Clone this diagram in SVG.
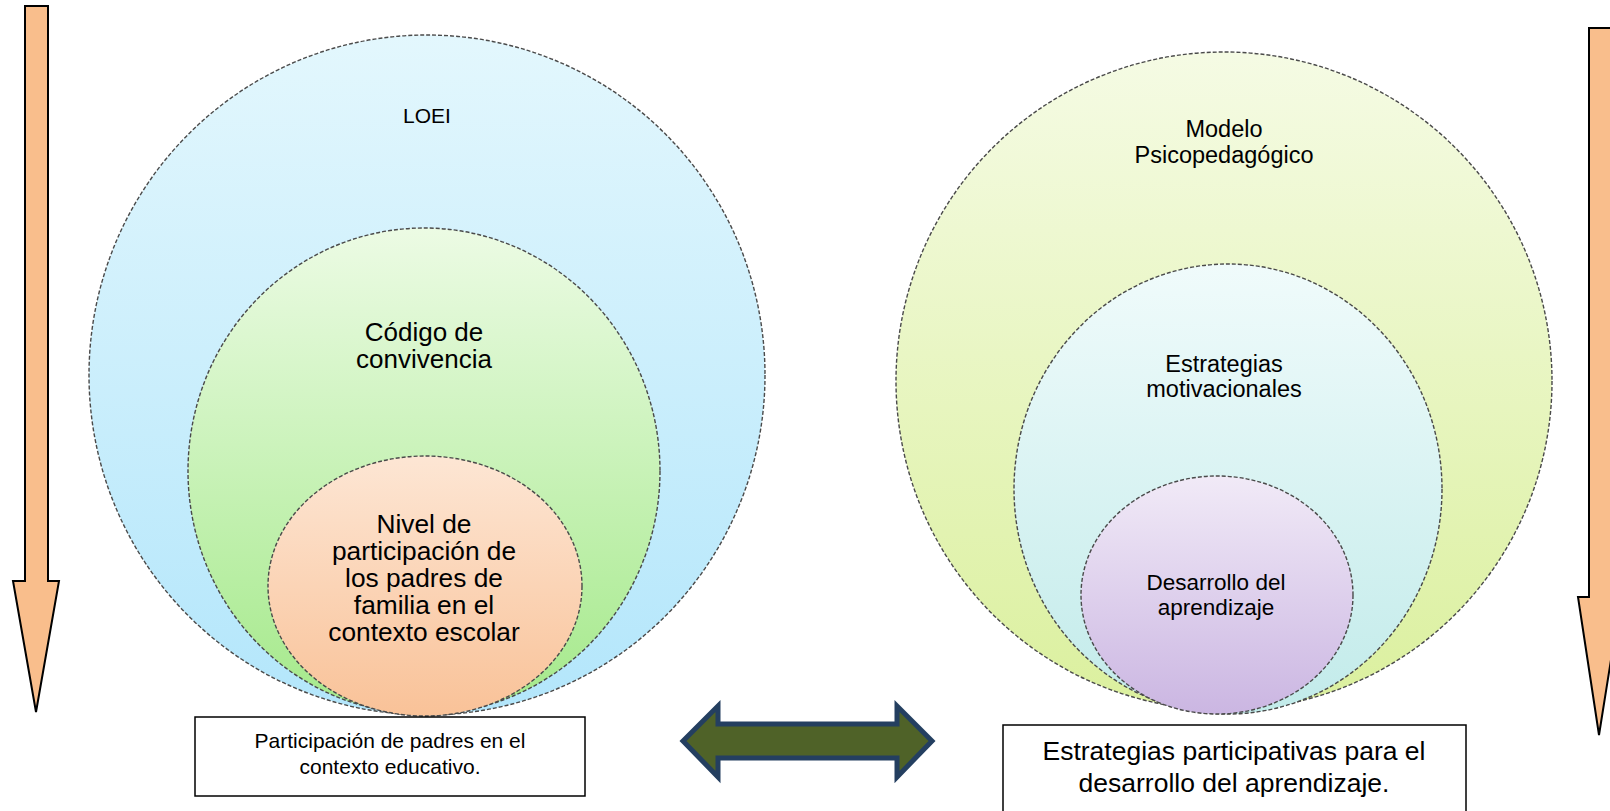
<svg xmlns="http://www.w3.org/2000/svg" width="1610" height="811" viewBox="0 0 1610 811">
<style>
.ring{stroke:#4a4a4a;stroke-width:1.4;stroke-dasharray:4 2}
.t{font-family:"Liberation Sans",Arial,sans-serif;fill:#000;text-anchor:middle}
.box{fill:#fff;stroke:#000;stroke-width:1.5}
.arrow{fill:#f9be8c;stroke:#000;stroke-width:2}
</style>
<defs>
<linearGradient id="gBlue" x1="0" y1="0" x2="0" y2="1"><stop offset="0" stop-color="#e3f7fd"/><stop offset="1" stop-color="#b3e6fb"/></linearGradient>
<linearGradient id="gGreen" x1="0" y1="0" x2="0" y2="1"><stop offset="0" stop-color="#ecfbe4"/><stop offset="1" stop-color="#a4e98a"/></linearGradient>
<linearGradient id="gOrange" x1="0" y1="0" x2="0" y2="1"><stop offset="0" stop-color="#fde6d4"/><stop offset="1" stop-color="#f9c298"/></linearGradient>
<linearGradient id="gLime" x1="0" y1="0" x2="0" y2="1"><stop offset="0" stop-color="#f5fbe4"/><stop offset="1" stop-color="#dbf09e"/></linearGradient>
<linearGradient id="gCyan" x1="0" y1="0" x2="0" y2="1"><stop offset="0" stop-color="#f0fbfb"/><stop offset="1" stop-color="#c2ebea"/></linearGradient>
<linearGradient id="gPurple" x1="0" y1="0" x2="0" y2="1"><stop offset="0" stop-color="#f1eaf7"/><stop offset="1" stop-color="#cbb6e2"/></linearGradient>
</defs>

<g id="arrow-left"><path class="arrow" d="M25,6 H48 V581 H59 L36,712 L13,581 H25 Z"/></g>
<g id="arrow-right"><path class="arrow" d="M1589,28 H1613 V597 H1621 L1599,735 L1578,597 H1589 Z"/></g>

<g id="loei">
<ellipse class="ring" cx="427" cy="375" rx="338" ry="340" fill="url(#gBlue)"/>
<text class="t" x="427" y="123" font-size="21">LOEI</text>
</g>
<g id="codigo">
<ellipse class="ring" cx="424" cy="471" rx="236" ry="243" fill="url(#gGreen)"/>
<text class="t" font-size="26"><tspan x="424" y="341">Código de</tspan><tspan x="424" y="368">convivencia</tspan></text>
</g>
<g id="nivel">
<ellipse class="ring" cx="425" cy="586" rx="157" ry="130" fill="url(#gOrange)"/>
<text class="t" font-size="26.3"><tspan x="424" y="533">Nivel de</tspan><tspan x="424" y="560">participación de</tspan><tspan x="424" y="587">los padres de</tspan><tspan x="424" y="614">familia en el</tspan><tspan x="424" y="641">contexto escolar</tspan></text>
</g>

<g id="modelo">
<ellipse class="ring" cx="1224" cy="381" rx="328" ry="329" fill="url(#gLime)"/>
<text class="t" font-size="23.5"><tspan x="1224" y="137">Modelo</tspan><tspan x="1224" y="163">Psicopedagógico</tspan></text>
</g>
<g id="estrategias">
<ellipse class="ring" cx="1228" cy="489" rx="214" ry="225" fill="url(#gCyan)"/>
<text class="t" font-size="23.5"><tspan x="1224" y="372">Estrategias</tspan><tspan x="1224" y="397">motivacionales</tspan></text>
</g>
<g id="desarrollo">
<ellipse class="ring" cx="1217" cy="595" rx="136" ry="119" fill="url(#gPurple)"/>
<text class="t" font-size="22.5"><tspan x="1216" y="590">Desarrollo del</tspan><tspan x="1216" y="615">aprendizaje</tspan></text>
</g>

<g id="box-left">
<rect class="box" x="195" y="717" width="390" height="79"/>
<text class="t" font-size="21"><tspan x="390" y="748">Participación de padres en el</tspan><tspan x="390" y="774">contexto educativo.</tspan></text>
</g>
<g id="box-right">
<rect class="box" x="1003" y="725" width="463" height="90"/>
<text class="t" font-size="26.5"><tspan x="1234" y="760">Estrategias participativas para el</tspan><tspan x="1234" y="792">desarrollo del aprendizaje.</tspan></text>
</g>

<g id="connectors">
<path d="M683,741 L718,706 V724 H897 V706 L932,741 L897,777 V758 H718 V777 Z" fill="#4f6228" stroke="#243f60" stroke-width="5" stroke-linejoin="miter"/>
</g>
</svg>
